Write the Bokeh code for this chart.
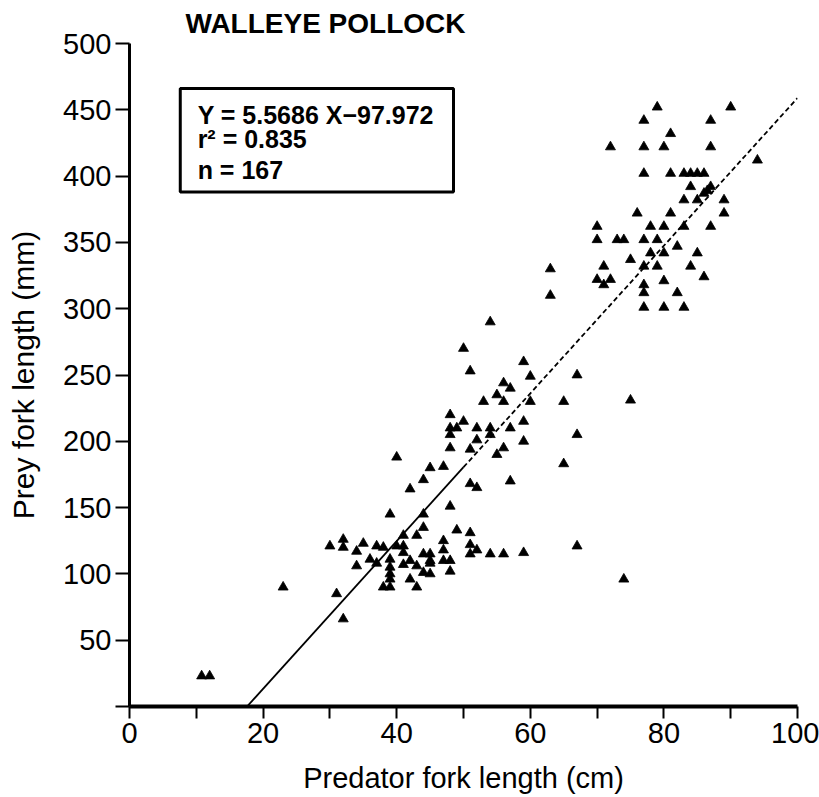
from bokeh.plotting import figure
from bokeh.models import Range1d, FixedTicker, Label, BoxAnnotation
from bokeh.embed import file_html
from bokeh.resources import INLINE

# ---- data ----
pred_low = [10.8, 12, 23, 31, 32,
            30, 32, 32, 35, 34, 34,
            37, 38, 36, 37, 40, 41, 41,
            39, 39, 39, 39, 38, 39, 42, 43,
            44, 45, 42, 41, 43, 44, 45, 45, 45,
            47, 47, 47, 48, 48,
            44, 43, 41, 39, 44, 48,
            49, 51, 51, 52, 51, 54, 56, 59, 67, 74]
prey_low = [23, 23, 90, 85, 66,
            121, 126, 120, 123, 117, 106,
            121, 120, 111, 108, 121, 121, 116,
            111, 105, 100, 96, 90, 90, 96, 90,
            101, 100, 110, 107, 106, 115, 115, 110, 108,
            125, 118, 110, 110, 102,
            135, 129, 129, 145, 145, 151,
            133, 131, 122, 118, 115, 115, 115, 116, 121, 96]

pred_mid = [42, 44, 45, 47, 40, 51, 52, 57,
            48, 51, 48, 48, 49, 48, 50, 52, 54, 57, 54, 52, 56, 55, 59, 59,
            53, 56, 60, 55, 56, 57, 59, 60, 50, 51, 54,
            65, 67, 67, 65, 75, 63, 63]
prey_mid = [164, 171, 180, 181, 188, 168, 165, 170,
            195, 194, 205, 210, 210, 220, 215, 210, 210, 210, 205, 201, 195, 190, 215, 200,
            230, 230, 230, 235, 244, 240, 260, 249, 270, 253, 290,
            230, 250, 205, 183, 231, 330, 310]

pred_high = [79, 90, 77, 87, 81, 72, 77, 80, 87, 94,
             77, 81, 83, 84, 85, 86, 84, 87, 86, 86.5,
             83, 85, 89, 76, 81, 89,
             70, 78, 80, 83, 87,
             70, 73, 74, 77, 79, 82, 85, 78, 80, 75,
             71, 77, 79, 84, 70, 71, 72, 77, 77, 80, 82, 86,
             77, 80, 83]
prey_high = [452, 452, 442, 442, 432, 422, 422, 422, 422, 412,
             402, 402, 402, 402, 402, 402, 392, 392, 387, 389,
             382, 382, 382, 372, 372, 372,
             362, 362, 362, 362, 362,
             352, 352, 352, 352, 352, 347, 342, 342, 342, 337,
             332, 332, 332, 332, 322, 318, 322, 318, 312, 321, 312, 324,
             301, 301, 301]

predator_cm = pred_low + pred_mid + pred_high
prey_mm = prey_low + prey_mid + prey_high

slope = 5.5686
intercept = -97.972
x_solid_end = 50.0
x_max = 100.0

title_text = "WALLEYE POLLOCK"
eq_lines = ["Y = 5.5686 X\u221297.972", "r\u00b2 = 0.835", "n = 167"]
x_major = [0, 20, 40, 60, 80, 100]
x_minor = [10, 30, 50, 70, 90]
y_ticks = [0, 50, 100, 150, 200, 250, 300, 350, 400, 450, 500]

FONT = "Liberation Sans"

p = figure(width=819, height=797, output_backend="svg", toolbar_location=None,
           x_range=Range1d(0, 100), y_range=Range1d(0, 500),
           min_border_left=129, min_border_right=22, min_border_top=41,
           min_border_bottom=91)
p.outline_line_color = None
p.grid.visible = False
p.background_fill_color = "white"
p.border_fill_color = "white"

# title
p.title.text = title_text
p.title.align = "left"
p.title.offset = 56
p.title.standoff = 10
p.title.text_font = FONT
p.title.text_font_size = "28px"
p.title.text_font_style = "bold"
p.title.text_color = "black"

# axes
xa = p.xaxis[0]
xa.ticker = FixedTicker(ticks=x_major, minor_ticks=x_minor)
xa.axis_line_width = 4
xa.major_tick_line_width = 2
xa.minor_tick_line_width = 2
xa.major_tick_in = 0
xa.major_tick_out = 12
xa.minor_tick_in = 0
xa.minor_tick_out = 12
xa.major_label_standoff = 4
xa.major_label_text_font = FONT
xa.major_label_text_font_size = "29px"
xa.major_label_text_color = "black"
xa.axis_label = "Predator fork length (cm)"
xa.axis_label_text_font = FONT
xa.axis_label_text_font_size = "29px"
xa.axis_label_text_font_style = "normal"
xa.axis_label_text_color = "black"
xa.axis_label_standoff = 16

ya = p.yaxis[0]
ya.ticker = FixedTicker(ticks=y_ticks, minor_ticks=[])
ya.major_label_overrides = {0: ""}
ya.axis_line_width = 3
ya.major_tick_line_width = 2
ya.major_tick_in = 0
ya.major_tick_out = 14
ya.major_label_standoff = 4
ya.major_label_text_font = FONT
ya.major_label_text_font_size = "29px"
ya.major_label_text_color = "black"
ya.axis_label = "Prey fork length (mm)"
ya.axis_label_text_font = FONT
ya.axis_label_text_font_size = "30px"
ya.axis_label_text_font_style = "normal"
ya.axis_label_text_color = "black"
ya.axis_label_standoff = 20

# regression line
x0 = -intercept / slope
p.line([x0, x_solid_end], [slope * x0 + intercept, slope * x_solid_end + intercept],
       line_color="black", line_width=1.8)
p.line([x_solid_end, x_max], [slope * x_solid_end + intercept, slope * x_max + intercept],
       line_color="black", line_width=1.8, line_dash="5 3")

# points
p.scatter(predator_cm, prey_mm, marker="triangle", size=10,
          fill_color="black", line_color="black", line_width=0.8)

# equation box
p.add_layout(BoxAnnotation(left=7.6, right=48.5, bottom=388, top=466,
                           fill_alpha=0, line_color="black", line_width=3,
                           line_alpha=1))
for txt, yy in zip(eq_lines, [446, 428, 404.5]):
    p.add_layout(Label(x=10.2, y=yy, text=txt, text_font=FONT,
                       text_font_size="25px", text_font_style="bold",
                       text_color="black", text_baseline="alphabetic"))

open("out.html", "w").write(file_html(p, INLINE))
